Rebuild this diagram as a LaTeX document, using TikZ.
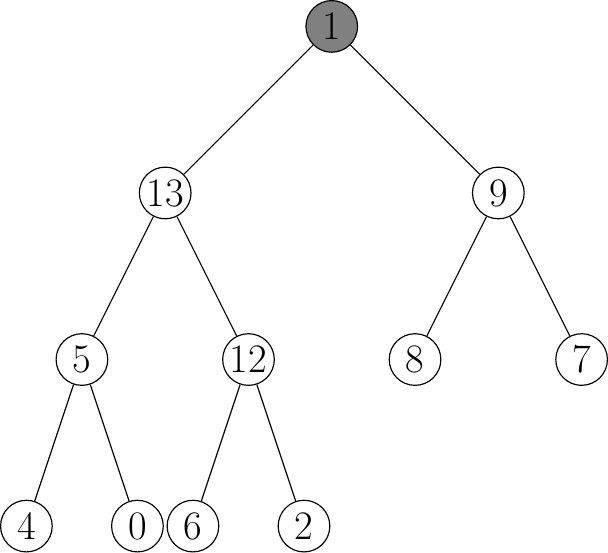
\documentclass[tikz,border=0pt]{standalone}
\usepackage{tikz}
\usetikzlibrary{arrows, shapes}

\begin{document}
\begin{tikzpicture}[knoten/.style={draw, circle, minimum size=9.3mm, inner sep=0pt, font=\huge},
				wurzel/.style={knoten, fill=gray}, x=10mm, y=10mm, semithick]
				% Wurzel
				\node[wurzel] (n1) at (0,0) {1};
				% Ebene 1
				\node[knoten] (n13) at (-3,-3) {13};
				\node[knoten] (n9)  at (3,-3) {9};
				% Ebene 2
				\node[knoten] (n5)  at (-4.5,-6) {5};
				\node[knoten] (n12) at (-1.5,-6) {12};
				\node[knoten] (n8)  at (1.5,-6) {8};
				\node[knoten] (n7)  at (4.5,-6) {7};
				% Blaetter
				\node[knoten] (n4)  at (-5.5,-9) {4};
				\node[knoten] (n0)  at (-3.5,-9) {0};
				\node[knoten] (n6)  at (-2.5,-9) {6};
				\node[knoten] (n2)  at (-0.5,-9) {2};
				% Kanten zeichnen
				\foreach \a/\b in {n1/n13, n1/n9, n13/n5, n13/n12, n9/n8, n9/n7, n5/n4, n5/n0, n12/n6, n12/n2}
					\draw (\a) -- (\b);
			\end{tikzpicture}
\end{document}
